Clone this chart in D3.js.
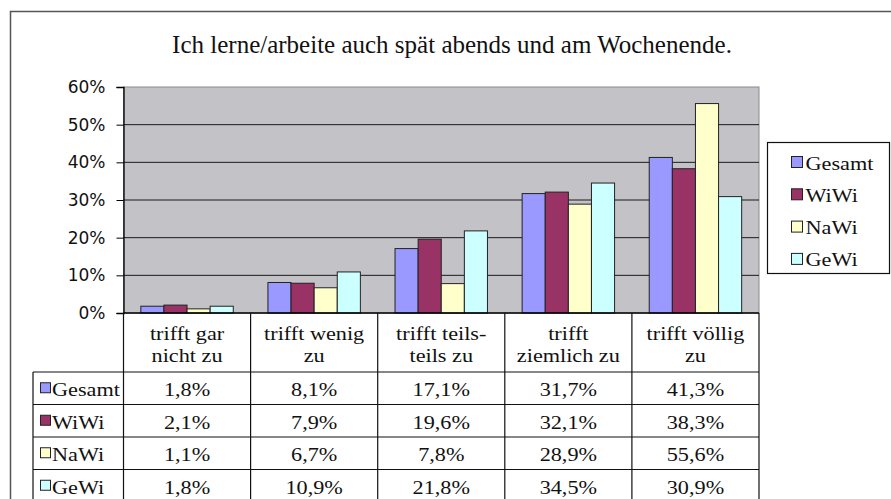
<!DOCTYPE html>
<html>
<head>
<meta charset="utf-8">
<script src="https://cdn.jsdelivr.net/npm/d3@7"></script>
<style>
	body { margin: 0; background: #fff; }
	text { font-family: "Liberation Serif", "Times New Roman", serif; fill: #111; }
</style>
</head>
<body>
<svg id="chart" width="891" height="499"></svg>
<script>
const title = "Ich lerne/arbeite auch spät abends und am Wochenende.";
const categories = ["gar", "wenig", "teils", "ziemlich", "völlig"];
const category_lines = [["trifft gar", "nicht zu"], ["trifft wenig", "zu"], ["trifft teils-", "teils zu"],
                        ["trifft", "ziemlich zu"], ["trifft völlig", "zu"]];
const series = ["Gesamt", "WiWi", "NaWi", "GeWi"];
const colors = ["#9999ff", "#993366", "#ffffcc", "#ccffff"];
const gesamt = [0.018, 0.081, 0.171, 0.317, 0.413];
const wiwi   = [0.021, 0.079, 0.196, 0.321, 0.383];
const nawi   = [0.011, 0.067, 0.078, 0.289, 0.556];
const gewi   = [0.018, 0.109, 0.218, 0.345, 0.309];
const y_ticks = [0, 0.1, 0.2, 0.3, 0.4, 0.5, 0.6];

const values = [gesamt, wiwi, nawi, gewi];

// body text is a bit wider than plain Times, so stretch it horizontally
const font_size = "19.5px";
const stretch = 1.14;

function place(sel, x, y) {
	return sel.attr("transform", "translate(" + x + "," + y + ") scale(" + stretch + ",1)")
	          .style("font-size", font_size);
}

let svg = d3.select("#chart");

// outer chart frame
svg.append("rect")
   .attr("x", 10.5).attr("y", 11.5)
   .attr("width", 900).attr("height", 520)
   .attr("fill", "#fff").attr("stroke", "#555").attr("stroke-width", 1.5);

svg.append("text")
   .attr("x", 452).attr("y", 53)
   .attr("text-anchor", "middle")
   .style("font-size", "25px")
   .text(title);

let left = 123.5, right = 759, top_ = 87, bottom = 313;

let xscale = d3.scaleBand().domain(categories).range([left, right]).paddingInner(0).paddingOuter(0);
let inner  = d3.scaleBand().domain(series).range([0, xscale.bandwidth()]).paddingInner(0).paddingOuter(0.75);
let yscale = d3.scaleLinear().domain([0, 0.6]).range([bottom, top_]);

// plot area
svg.append("rect")
   .attr("x", left).attr("y", top_)
   .attr("width", right - left).attr("height", bottom - top_)
   .attr("fill", "#c3c2c6").attr("stroke", "#8a8a8a").attr("stroke-width", 1);

svg.append("g")
   .selectAll("line")
   .data(y_ticks.slice(1, -1))
   .join("line")
   .attr("x1", left).attr("x2", right)
   .attr("y1", d=>yscale(d)).attr("y2", d=>yscale(d))
   .attr("stroke", "#1a1a1a").attr("stroke-width", 1);

// bars
series.forEach((s, i) => {
	svg.append("g")
	   .selectAll("rect")
	   .data(values[i])
	   .join("rect")
	   .attr("x", (d, j)=>xscale(categories[j]) + inner(s))
	   .attr("width", inner.bandwidth())
	   .attr("y", d=>yscale(d))
	   .attr("height", d=>yscale(0) - yscale(d))
	   .attr("fill", colors[i])
	   .attr("stroke", "#222").attr("stroke-width", 1);
});

// y axis
let yaxis = svg.append("g")
   .attr("transform", "translate(" + left + ",0)")
   .call(d3.axisLeft(yscale).tickValues(y_ticks).tickFormat(d3.format(".0%")).tickSize(7).tickPadding(11));
yaxis.select(".domain").attr("stroke", "#000").attr("stroke-width", 1.3);
yaxis.selectAll(".tick line").attr("stroke", "#000");
yaxis.selectAll("text")
     .style("font-size", "17px").style("font-family", "'DejaVu Sans', sans-serif")
     .attr("fill", "#111");

svg.append("line")
   .attr("x1", left).attr("x2", right)
   .attr("y1", bottom).attr("y2", bottom)
   .attr("stroke", "#000").attr("stroke-width", 1.3);

// data table
let header_bottom = 372, row_h = 32.5, table_left = 33;
let table_bottom = header_bottom + row_h * series.length;
let de = d3.formatLocale({decimal: ",", thousands: ".", grouping: [3], currency: ["", "€"]});
let pct = de.format(".1%");

let grid = svg.append("g").attr("stroke", "#111").attr("stroke-width", 1.2);

grid.selectAll(".vline")
    .data(categories.concat(["end"]))
    .join("line")
    .attr("class", "vline")
    .attr("x1", d=>d == "end" ? right : xscale(d))
    .attr("x2", d=>d == "end" ? right : xscale(d))
    .attr("y1", bottom).attr("y2", table_bottom + 40);

grid.append("line")
    .attr("x1", table_left).attr("x2", table_left)
    .attr("y1", header_bottom).attr("y2", table_bottom + 40);

grid.selectAll(".hline")
    .data(d3.range(series.length + 1))
    .join("line")
    .attr("class", "hline")
    .attr("x1", table_left).attr("x2", right)
    .attr("y1", d=>header_bottom + d*row_h).attr("y2", d=>header_bottom + d*row_h);

// header labels
svg.append("g")
   .selectAll("text")
   .data(categories)
   .join("text")
   .attr("text-anchor", "middle")
   .each(function(d, i) {
	   place(d3.select(this), xscale(d) + xscale.bandwidth()/2, 340);
	   d3.select(this).selectAll("tspan")
	     .data(category_lines[i])
	     .join("tspan")
	     .attr("x", 0)
	     .attr("dy", (t, k)=>k == 0 ? 0 : 22)
	     .text(t=>t);
   });

// rows
series.forEach((s, i) => {
	let cy = header_bottom + i*row_h + row_h/2;
	let row = svg.append("g");
	row.append("rect")
	   .attr("x", 40.5).attr("y", cy - 5.5)
	   .attr("width", 10).attr("height", 10)
	   .attr("fill", colors[i]).attr("stroke", "#222");
	place(row.append("text"), 52, cy + 8)
	   .text(s);
	row.selectAll(".val")
	   .data(values[i])
	   .join("text")
	   .attr("class", "val")
	   .attr("text-anchor", "middle")
	   .each(function(d, j) {
		   place(d3.select(this), xscale(categories[j]) + xscale.bandwidth()/2, cy + 8);
	   })
	   .text(d=>pct(d));
});

// legend
let legend = svg.append("g").attr("transform", "translate(767.5,142.5)");
legend.append("rect")
      .attr("width", 122).attr("height", 131)
      .attr("fill", "#fff").attr("stroke", "#111").attr("stroke-width", 1.2);
series.forEach((s, i) => {
	let cy = 19 + i*32.3;
	legend.append("rect")
	      .attr("x", 24).attr("y", cy - 5)
	      .attr("width", 11).attr("height", 11)
	      .attr("fill", colors[i]).attr("stroke", "#222");
	place(legend.append("text"), 38, cy + 8)
	      .text(s);
});
</script>
</body>
</html>
